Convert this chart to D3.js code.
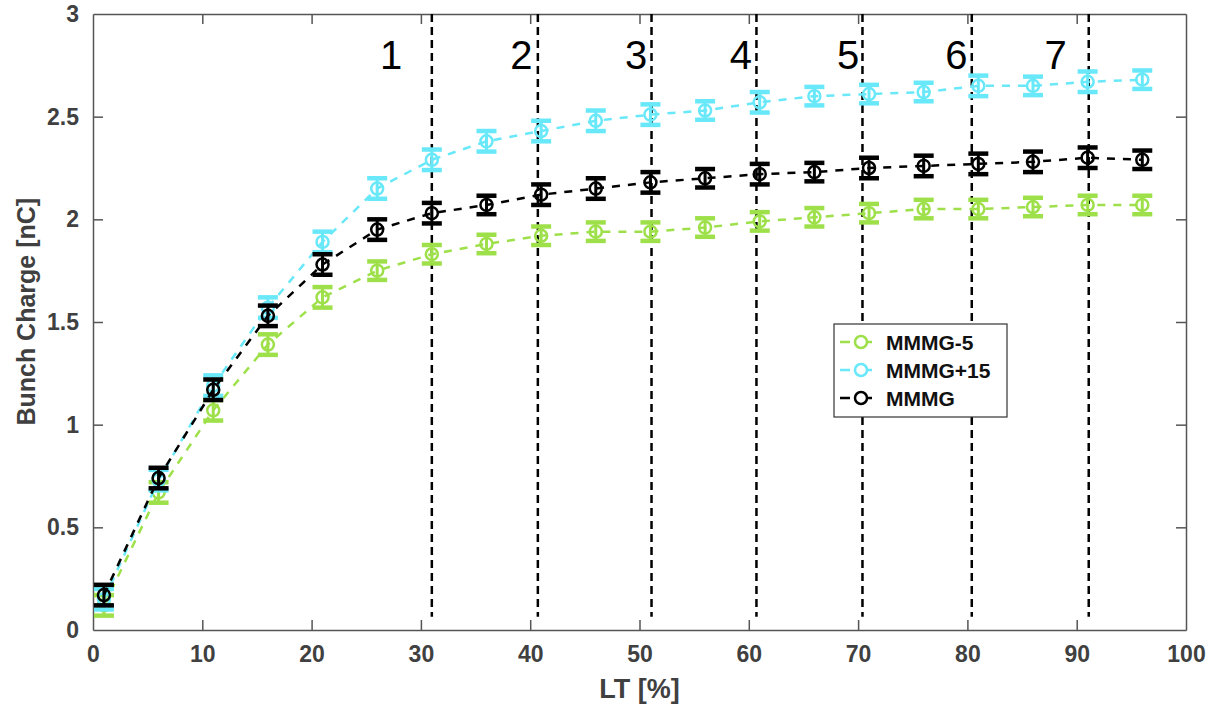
<!DOCTYPE html>
<html lang="en">
<head>
    <meta charset="UTF-8">
    <title>Bunch Charge vs LT</title>
    <style>
        body { margin: 0; background: #fff; }
        text { font-family: "Liberation Sans", Arial, sans-serif; }
    </style>
</head>
<body>
    <div class="container"></div>
    <script src="https://cdn.jsdelivr.net/npm/d3@7"></script>
    <script>
        // data
        const lt = [1, 6, 11, 16, 21, 26, 31, 36, 41, 46, 51, 56, 61, 66, 71, 76, 81, 86, 91, 96]
        const mmmgMinus5 = [0.12, 0.67, 1.07, 1.39, 1.62, 1.75, 1.83, 1.88, 1.92, 1.94, 1.94, 1.96, 1.99, 2.01, 2.03, 2.05, 2.05, 2.06, 2.07, 2.07]
        const mmmgPlus15 = [0.15, 0.73, 1.19, 1.57, 1.89, 2.15, 2.29, 2.38, 2.43, 2.48, 2.51, 2.53, 2.57, 2.60, 2.61, 2.62, 2.65, 2.65, 2.67, 2.68]
        const mmmg = [0.17, 0.74, 1.17, 1.53, 1.78, 1.95, 2.03, 2.07, 2.12, 2.15, 2.18, 2.20, 2.22, 2.23, 2.25, 2.26, 2.27, 2.28, 2.30, 2.29]
        const errMinus5 = [0.05, 0.05, 0.05, 0.05, 0.05, 0.045, 0.045, 0.045, 0.045, 0.045, 0.045, 0.045, 0.045, 0.045, 0.045, 0.045, 0.045, 0.045, 0.045, 0.045]
        const errPlus15 = [0.05, 0.05, 0.05, 0.05, 0.05, 0.05, 0.05, 0.05, 0.05, 0.05, 0.05, 0.045, 0.05, 0.045, 0.045, 0.045, 0.05, 0.045, 0.05, 0.045]
        const errMmmg = [0.05, 0.05, 0.05, 0.05, 0.05, 0.05, 0.05, 0.045, 0.05, 0.05, 0.05, 0.045, 0.05, 0.045, 0.05, 0.05, 0.05, 0.05, 0.05, 0.045]

        const zoneLines = [31.0, 40.7, 51.1, 60.7, 70.4, 80.4, 91.1]
        const zoneLabels = ["1", "2", "3", "4", "5", "6", "7"]
        const zoneLabelX = [28.3, 40.2, 50.7, 60.3, 70.1, 80.0, 89.1]

        const xTicks = [0, 10, 20, 30, 40, 50, 60, 70, 80, 90, 100]
        const yTicks = [0, 0.5, 1, 1.5, 2, 2.5, 3]

        const series = [
            { name: "MMMG-5", values: mmmgMinus5, errors: errMinus5, color: "#9ee04a" },
            { name: "MMMG+15", values: mmmgPlus15, errors: errPlus15, color: "#68e8f8" },
            { name: "MMMG", values: mmmg, errors: errMmmg, color: "#000000" }
        ]

        const width = 1212
        const height = 709
        const margin = { top: 14, right: 26, bottom: 79, left: 93 }
        const innerW = width - margin.left - margin.right
        const innerH = height - margin.top - margin.bottom

        const svg = d3.select('.container').append("svg")
            .attr("width", width)
            .attr("height", height)

        const chart = svg.append("g")
            .attr("transform", `translate(${margin.left},${margin.top})`)

        const xScale = d3.scaleLinear().domain([0, 100]).range([0, innerW])
        const yScale = d3.scaleLinear().domain([0, 3]).range([innerH, 0])

        const axisColor = "#555"
        const labelColor = "#404040"
        const fmt = d3.format("~g")

        // axes, ticks inside like matlab
        const bottomAxis = chart.append("g")
            .attr("transform", `translate(0,${innerH})`)
            .call(d3.axisBottom(xScale).tickValues(xTicks).tickFormat(fmt).tickSizeInner(-10).tickSizeOuter(0).tickPadding(16))
        const topAxis = chart.append("g")
            .call(d3.axisTop(xScale).tickValues(xTicks).tickSizeInner(-10).tickSizeOuter(0).tickFormat(""))
        const leftAxis = chart.append("g")
            .call(d3.axisLeft(yScale).tickValues(yTicks).tickFormat(fmt).tickSizeInner(-10).tickSizeOuter(0).tickPadding(14))
        const rightAxis = chart.append("g")
            .attr("transform", `translate(${innerW},0)`)
            .call(d3.axisRight(yScale).tickValues(yTicks).tickSizeInner(-10).tickSizeOuter(0).tickFormat(""))

        for (const ax of [bottomAxis, topAxis, leftAxis, rightAxis]) {
            ax.select(".domain").attr("stroke", axisColor).attr("stroke-width", 1.5)
            ax.selectAll(".tick line").attr("stroke", axisColor).attr("stroke-width", 1.5)
            ax.selectAll(".tick text")
                .attr("fill", labelColor)
                .attr("font-size", 23)
                .attr("font-weight", "bold")
                .style("font-family", '"Liberation Sans", Arial, sans-serif')
        }
        bottomAxis.selectAll(".tick line").filter(d => d === 0 || d === 100).remove()
        topAxis.selectAll(".tick line").filter(d => d === 0 || d === 100).remove()
        leftAxis.selectAll(".tick line").filter(d => d === 0 || d === 3).remove()
        rightAxis.selectAll(".tick line").filter(d => d === 0 || d === 3).remove()

        // axis titles
        svg.append("text")
            .attr("x", margin.left + xScale(50))
            .attr("y", 698)
            .attr("text-anchor", "middle")
            .attr("font-size", 27)
            .attr("font-weight", "bold")
            .attr("fill", labelColor)
            .text("LT [%]")

        svg.append("text")
            .attr("transform", `translate(35,${margin.top + yScale(1.55)}) rotate(-90)`)
            .attr("text-anchor", "middle")
            .attr("font-size", 25)
            .attr("font-weight", "bold")
            .attr("fill", labelColor)
            .text("Bunch Charge [nC]")

        // zone separators
        chart.append("g").selectAll("line")
            .data(zoneLines)
            .join("line")
            .attr("x1", d => xScale(d))
            .attr("x2", d => xScale(d))
            .attr("y1", yScale(3))
            .attr("y2", yScale(0.065))
            .attr("stroke", "#000")
            .attr("stroke-width", 2.5)
            .attr("stroke-dasharray", "8,5")

        chart.append("g").selectAll("text")
            .data(zoneLabels)
            .join("text")
            .attr("x", (d, i) => xScale(zoneLabelX[i]))
            .attr("y", yScale(2.73))
            .attr("text-anchor", "end")
            .attr("font-size", 40)
            .attr("fill", "#000")
            .text(d => d)

        // series
        const line = d3.line()
            .x((d, i) => xScale(lt[i]))
            .y(d => yScale(d))

        const capHalf = 10

        for (const s of series) {
            const g = chart.append("g").attr("class", "series")

            g.append("path")
                .datum(s.values)
                .attr("d", line)
                .attr("fill", "none")
                .attr("stroke", s.color)
                .attr("stroke-width", 2.5)
                .attr("stroke-dasharray", "8,8")

            const pts = g.selectAll(".pt")
                .data(s.values)
                .join("g")
                .attr("class", "pt")
                .attr("transform", (d, i) => `translate(${xScale(lt[i])},0)`)

            pts.append("line")
                .attr("y1", (d, i) => yScale(d - s.errors[i]))
                .attr("y2", (d, i) => yScale(d + s.errors[i]))
                .attr("stroke", s.color)
                .attr("stroke-width", 3)
            pts.append("line")
                .attr("x1", -capHalf).attr("x2", capHalf)
                .attr("y1", (d, i) => yScale(d - s.errors[i]))
                .attr("y2", (d, i) => yScale(d - s.errors[i]))
                .attr("stroke", s.color)
                .attr("stroke-width", 4.5)
            pts.append("line")
                .attr("x1", -capHalf).attr("x2", capHalf)
                .attr("y1", (d, i) => yScale(d + s.errors[i]))
                .attr("y2", (d, i) => yScale(d + s.errors[i]))
                .attr("stroke", s.color)
                .attr("stroke-width", 4.5)
            pts.append("circle")
                .attr("cy", d => yScale(d))
                .attr("r", 6)
                .attr("fill", "none")
                .attr("stroke", s.color)
                .attr("stroke-width", 2.5)
        }

        // legend
        const legend = svg.append("g").attr("transform", "translate(834,324)")
        legend.append("rect")
            .attr("width", 173)
            .attr("height", 93)
            .attr("fill", "#fff")
            .attr("stroke", "#333")
            .attr("stroke-width", 1.2)

        const items = legend.selectAll(".item")
            .data(series)
            .join("g")
            .attr("class", "item")
            .attr("transform", (d, i) => `translate(0,${18 + i * 28})`)

        items.append("line")
            .attr("x1", 6).attr("x2", 38)
            .attr("stroke", d => d.color)
            .attr("stroke-width", 2.5)
            .attr("stroke-dasharray", "10,4")
        items.append("circle")
            .attr("cx", 27)
            .attr("r", 6)
            .attr("fill", "#fff")
            .attr("stroke", d => d.color)
            .attr("stroke-width", 2.5)
        items.append("text")
            .attr("x", 52)
            .attr("y", 8)
            .attr("font-size", 21)
            .attr("font-weight", "bold")
            .attr("fill", "#111")
            .text(d => d.name)
    </script>
</body>
</html>
